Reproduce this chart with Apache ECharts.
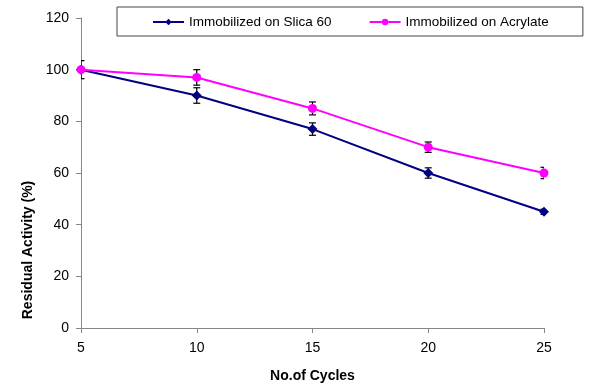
<!DOCTYPE html>
<html>
<head>
<meta charset="utf-8">
<script src="https://cdn.jsdelivr.net/npm/echarts@6/dist/echarts.min.js"></script>
<style>html,body{margin:0;padding:0;background:#fff;}#c{width:593px;height:384px;}</style>
</head>
<body>
<div id="c"></div>
<script>
const cycles = [5, 10, 15, 20, 25];
const silica = [100, 90, 77, 60, 45];
const silicaErr = [3.5, 3, 2.4, 2, 1];
const acrylate = [100, 97, 85, 70, 60];
const acrylateErr = [0, 3, 2.5, 2, 2.2];
const yTicks = [0, 20, 40, 60, 80, 100, 120];
const xTicks = [5, 10, 15, 20, 25];

const font = '"Liberation Sans", Arial, sans-serif';

function errData(vals, errs) {
  return cycles.map((c, i) => [c, vals[i] - errs[i], vals[i] + errs[i]]);
}
function errSeries(vals, errs) {
  return {
    type: 'custom',
    clip: true,
    z: 3,
    silent: true,
    data: errData(vals, errs),
    renderItem: function (params, api) {
      const lo = api.coord([api.value(0), api.value(1)]);
      const hi = api.coord([api.value(0), api.value(2)]);
      const w = 3.5;
      const st = { stroke: '#000', lineWidth: 1.2 };
      return {
        type: 'group',
        children: [
          { type: 'line', shape: { x1: lo[0], y1: lo[1], x2: hi[0], y2: hi[1] }, style: st },
          { type: 'line', shape: { x1: lo[0] - w, y1: lo[1], x2: lo[0] + w, y2: lo[1] }, style: st },
          { type: 'line', shape: { x1: hi[0] - w, y1: hi[1], x2: hi[0] + w, y2: hi[1] }, style: st }
        ]
      };
    }
  };
}

const chart = echarts.init(document.getElementById('c'), null, { renderer: 'canvas' });
chart.setOption({
  animation: false,
  backgroundColor: '#fff',
  grid: { left: 81, right: 49, top: 18, bottom: 56, containLabel: false, outerBoundsMode: 'none' },
  legend: {
    left: 117, top: 7,
    padding: [8, 34, 7, 35],
    borderColor: '#444', borderWidth: 1,
    itemGap: 37, itemWidth: 31, itemHeight: 8,
    textStyle: { fontFamily: font, fontSize: 13.5, color: '#000' },
    data: ['Immobilized on Slica 60', 'Immobilized on Acrylate']
  },
  xAxis: {
    type: 'value', min: 5, max: 25, interval: 5,
    name: 'No.of Cycles', nameLocation: 'middle', nameGap: 41,
    nameTextStyle: { fontFamily: font, fontSize: 14, fontWeight: 'bold', color: '#000' },
    axisLine: { lineStyle: { color: '#868686', width: 1 } },
    axisTick: { show: true, length: 5, lineStyle: { color: '#868686' } },
    axisLabel: { fontFamily: font, fontSize: 14, color: '#000', margin: 13,
      formatter: v => xTicks.includes(v) ? String(v) : '' },
    splitLine: { show: false }
  },
  yAxis: {
    type: 'value', min: 0, max: 120, interval: 20,
    axisLine: { show: true, lineStyle: { color: '#868686', width: 1 } },
    axisTick: { show: true, length: 5, lineStyle: { color: '#868686' } },
    axisLabel: { fontFamily: font, fontSize: 14, color: '#000', margin: 12,
      formatter: v => yTicks.includes(v) ? String(v) : '' },
    splitLine: { show: false }
  },
  graphic: [{
    type: 'text',
    x: 28, y: 250,
    rotation: Math.PI / 2,
    style: {
      text: 'Residual Activity (%)',
      font: 'bold 14px ' + font,
      fill: '#000',
      align: 'center',
      verticalAlign: 'middle'
    }
  }],
  series: [
    errSeries(silica, silicaErr),
    errSeries(acrylate, acrylateErr),
    {
      name: 'Immobilized on Slica 60', type: 'line', z: 4,
      data: cycles.map((c, i) => [c, silica[i]]),
      symbol: 'diamond', symbolSize: 10,
      lineStyle: { color: '#000080', width: 2 },
      itemStyle: { color: '#000080' }
    },
    {
      name: 'Immobilized on Acrylate', type: 'line', z: 5,
      data: cycles.map((c, i) => [c, acrylate[i]]),
      symbol: 'circle', symbolSize: 9,
      lineStyle: { color: '#FF00FF', width: 2 },
      itemStyle: { color: '#FF00FF' }
    }
  ]
});
</script>
</body>
</html>
